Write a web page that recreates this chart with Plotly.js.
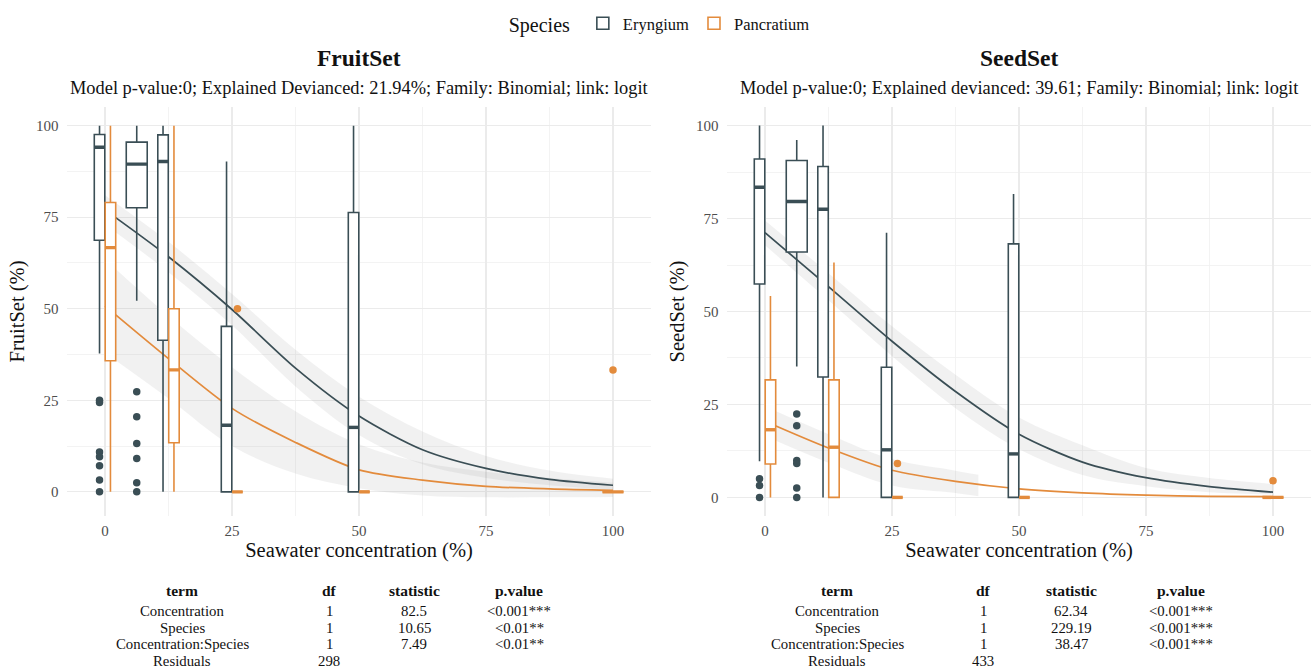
<!DOCTYPE html>
<html><head><meta charset="utf-8">
<script src="https://cdn.plot.ly/plotly-3.0.1.min.js"></script>
<style>html,body{margin:0;padding:0;background:#fff}</style>
</head><body><div id="chart" style="width:1311px;height:669px"></div>
<script>
// ---------------- DATA ----------------
const xTicks = [0, 25, 50, 75, 100];
const yTicks = [0, 25, 50, 75, 100];
const minorTicks = [12.5, 37.5, 62.5, 87.5];
const speciesNames = ['Eryngium', 'Pancratium'];

// FruitSet boxplot statistics
const fruitEryConc = [0, 6.25, 12.5, 25, 50];
const fruitEryQ1 = [68.7, 77.6, 41.4, 0, 0];
const fruitEryMed = [94.1, 89.5, 90.2, 18.2, 17.6];
const fruitEryQ3 = [97.6, 95.5, 97.5, 45.2, 76.3];
const fruitEryLow = [37.8, 52.2, 0, 0, 0];
const fruitEryHigh = [100, 100, 100, 90.2, 100];
const fruitEryOutConc = [0, 0, 0, 0, 0, 0, 0, 6.25, 6.25, 6.25, 6.25, 6.25, 6.25];
const fruitEryOutVal = [25, 24.4, 10.9, 9.6, 7.1, 3.2, 0, 27.3, 20.5, 13.2, 9.1, 2.5, 0];

const fruitPanConc = [0, 12.5, 25, 50, 100];
const fruitPanQ1 = [35.8, 13.4, 0, 0, 0];
const fruitPanMed = [66.7, 33.3, 0, 0, 0];
const fruitPanQ3 = [79.0, 50, 0, 0, 0];
const fruitPanLow = [0, 0, 0, 0, 0];
const fruitPanHigh = [100, 100, 0, 0, 0];
const fruitPanOutConc = [25, 100];
const fruitPanOutVal = [50, 33.3];

// FruitSet fitted GLM curves and confidence bands
const fitX = [0, 12.5, 25, 37.5, 50, 62.5, 75, 87.5, 100];
const fruitEryFit = [77.0, 64.2, 49.8, 33.8, 20.7, 11.5, 6.4, 3.4, 1.8];
const fruitEryLo = [73.0, 60.0, 45.5, 28.8, 15.5, 7.5, 3.8, 1.8, 0.6];
const fruitEryHi = [81.0, 68.3, 54.0, 38.8, 26.0, 16.5, 9.8, 5.8, 3.6];
const fruitPanFit = [50.8, 36.4, 22.8, 13.5, 6.0, 3.2, 1.5, 0.8, 0.4];
const fruitPanBandX = [0, 12.5, 25, 37.5, 50, 62.5, 75, 87.5, 100];
const fruitPanLo = [38.0, 25.5, 12.5, 5.0, 1.0, -1.0, -1.5, -1.5, -1.4];
const fruitPanHi = [63.5, 48.0, 34.0, 22.0, 13.0, 8.0, 5.5, 3.8, 2.5];

// SeedSet boxplot statistics
const seedEryConc = [0, 6.25, 12.5, 25, 50];
const seedEryQ1 = [57.4, 66.0, 32.4, 0, 0];
const seedEryMed = [83.4, 79.6, 77.5, 12.8, 11.7];
const seedEryQ3 = [91.0, 90.6, 89.0, 35.0, 68.2];
const seedEryLow = [9.7, 35.2, 0, 0, 0];
const seedEryHigh = [100, 96.1, 100, 71.2, 81.6];
const seedEryOutConc = [0, 0, 0, 6.25, 6.25, 6.25, 6.25, 6.25, 6.25];
const seedEryOutVal = [5.0, 3.2, 0, 22.4, 19.3, 9.9, 9.1, 2.5, 0];

const seedPanConc = [0, 12.5, 25, 50, 100];
const seedPanQ1 = [9.0, 0, 0, 0, 0];
const seedPanMed = [18.2, 13.5, 0, 0, 0];
const seedPanQ3 = [31.6, 31.6, 0, 0, 0];
const seedPanLow = [0, 0, 0, 0, 0];
const seedPanHigh = [54.2, 63.2, 0, 0, 0];
const seedPanOutConc = [25, 100];
const seedPanOutVal = [9.1, 4.5];

// SeedSet fitted GLM curves and confidence bands
const seedEryFit = [71.2, 56.7, 42.0, 28.5, 17.0, 9.5, 5.3, 2.9, 1.4];
const seedEryLo = [67.8, 53.0, 38.0, 24.0, 13.0, 6.0, 3.0, 1.4, 0.8];
const seedEryHi = [74.5, 60.3, 46.0, 33.0, 21.5, 14.0, 7.9, 5.2, 3.6];
const seedPanFit = [20.5, 13.3, 7.3, 4.3, 2.3, 1.2, 0.6, 0.3, 0.2];
const seedPanBandX = [0, 12.5, 25, 37.5, 42];
const seedPanLo = [16.5, 9.3, 3.2, 1.2, 0.3];
const seedPanHi = [24.5, 17.0, 10.3, 7.2, 6.1];

// Titles
const fruitTitle = 'FruitSet';
const fruitSubtitle = 'Model p-value:0; Explained Devianced: 21.94%; Family: Binomial; link: logit';
const seedTitle = 'SeedSet';
const seedSubtitle = 'Model p-value:0; Explained devianced: 39.61; Family: Binomial; link: logit';
const xTitle = 'Seawater concentration (%)';
const fruitYTitle = 'FruitSet (%)';
const seedYTitle = 'SeedSet (%)';

// ANOVA tables
const tableHeader = ['term', 'df', 'statistic', 'p.value'];
const tableTerms = ['Concentration', 'Species', 'Concentration:Species', 'Residuals'];
const fruitDf = ['1', '1', '1', '298'];
const fruitStat = ['82.5', '10.65', '7.49', ''];
const fruitP = ['<0.001***', '<0.01**', '<0.01**', ''];
const seedDf = ['1', '1', '1', '433'];
const seedStat = ['62.34', '229.19', '38.47', ''];
const seedP = ['<0.001***', '<0.001***', '<0.001***', ''];

// ---------------- STYLE / BUILD ----------------
const W = 1311, H = 669;
const px = v => v / W, py = v => 1 - v / H;
const ERY = '#3a4e55', PAN = '#e38b3c';
const SERIF = 'Liberation Serif, Times New Roman, serif';
const BOX_W = 4.3;
const GRID = '#ebebeb';
const BAND = 'rgba(140,140,140,0.12)';

const xDomL = [px(67.4), px(650.6)], xDomR = [px(727.4), px(1310.6)];
const yDom = [py(516), py(107)];
const xRange = [-7.4, 107.4];
const yRangeL = [-6.6, 105.1], yRangeR = [-5, 105];

const traces = [];

function band(x, lo, hi, xa, ya) {
  traces.push({type:'scatter', mode:'lines', x:x, y:lo, xaxis:xa, yaxis:ya, line:{width:0, shape:'spline'}, showlegend:false, hoverinfo:'skip'});
  traces.push({type:'scatter', mode:'lines', x:x, y:hi, xaxis:xa, yaxis:ya, line:{width:0, shape:'spline'}, fill:'tonexty', fillcolor:BAND, showlegend:false, hoverinfo:'skip'});
}
function curve(x, y, color, xa, ya) {
  traces.push({type:'scatter', mode:'lines', x:x, y:y, xaxis:xa, yaxis:ya, line:{width:1.7, color:color, shape:'spline', smoothing:0.8}, showlegend:false, hoverinfo:'skip'});
}
function position(c, otherConc, side) {
  return otherConc.includes(c) ? c + side * BOX_W / 4 : c;
}
function boxes(st, otherConc, side, color, name, xa, ya, showLegend) {
  const mx = [], my = [];
  st.conc.forEach((c, i) => {
    const shared = otherConc.includes(c);
    const w = shared ? BOX_W / 2 : BOX_W;
    const p = position(c, otherConc, side);
    traces.push({type:'box', name:name, legendgroup:name, showlegend: showLegend && i === 0,
      x:[p], q1:[st.q1[i]], median:[st.med[i]], q3:[st.q3[i]], lowerfence:[st.lo[i]], upperfence:[st.hi[i]],
      width: w * 0.96, whiskerwidth:0, boxpoints:false, fillcolor:'#ffffff',
      line:{color:color, width:1.6}, xaxis:xa, yaxis:ya, hoverinfo:'skip'});
    const half = w * 0.96 / 2;
    mx.push(p - half, p + half, null); my.push(st.med[i], st.med[i], null);
  });
  traces.push({type:'scatter', mode:'lines', x:mx, y:my, xaxis:xa, yaxis:ya, line:{color:color, width:3.4}, showlegend:false, hoverinfo:'skip'});
  traces.push({type:'scatter', mode:'markers', x:st.outConc.map(c => position(c, otherConc, side)), y:st.outVal,
    xaxis:xa, yaxis:ya, marker:{color:color, size:7.5}, showlegend:false, hoverinfo:'skip'});
}

const fruitEry = {conc:fruitEryConc, q1:fruitEryQ1, med:fruitEryMed, q3:fruitEryQ3, lo:fruitEryLow, hi:fruitEryHigh, outConc:fruitEryOutConc, outVal:fruitEryOutVal};
const fruitPan = {conc:fruitPanConc, q1:fruitPanQ1, med:fruitPanMed, q3:fruitPanQ3, lo:fruitPanLow, hi:fruitPanHigh, outConc:fruitPanOutConc, outVal:fruitPanOutVal};
const seedEry = {conc:seedEryConc, q1:seedEryQ1, med:seedEryMed, q3:seedEryQ3, lo:seedEryLow, hi:seedEryHigh, outConc:seedEryOutConc, outVal:seedEryOutVal};
const seedPan = {conc:seedPanConc, q1:seedPanQ1, med:seedPanMed, q3:seedPanQ3, lo:seedPanLow, hi:seedPanHigh, outConc:seedPanOutConc, outVal:seedPanOutVal};

// base layer: bands + curves
band(fitX, fruitEryLo, fruitEryHi, 'x', 'y');
band(fruitPanBandX, fruitPanLo, fruitPanHi, 'x', 'y');
curve(fitX, fruitEryFit, ERY, 'x', 'y');
curve(fitX, fruitPanFit, PAN, 'x', 'y');
band(fitX, seedEryLo, seedEryHi, 'x2', 'y2');
band(seedPanBandX, seedPanLo, seedPanHi, 'x2', 'y2');
curve(fitX, seedEryFit, ERY, 'x2', 'y2');
curve(fitX, seedPanFit, PAN, 'x2', 'y2');
// overlay layer: boxes above curves
boxes(fruitEry, fruitPanConc, -1, ERY, speciesNames[0], 'x3', 'y3', true);
boxes(fruitPan, fruitEryConc, 1, PAN, speciesNames[1], 'x3', 'y3', true);
boxes(seedEry, seedPanConc, -1, ERY, speciesNames[0], 'x4', 'y4', false);
boxes(seedPan, seedEryConc, 1, PAN, speciesNames[1], 'x4', 'y4', false);

const tickFont = {family:SERIF, size:15, color:'#4d4d4d'};
const titleFont = {family:SERIF, size:20.5, color:'#111'};
function xAxis(dom, anchor) {
  return {domain:dom, range:xRange, anchor:anchor, tickmode:'array', tickvals:xTicks, ticktext:xTicks.map(String),
    showgrid:true, gridcolor:GRID, gridwidth:1.2, zeroline:false, showline:false, ticks:'', tickfont:tickFont,
    ticklabelstandoff:4, minor:{tickvals:minorTicks, showgrid:true, gridcolor:'#f0f0f0', gridwidth:0.8, ticks:''},
    title:{text:xTitle, font:titleFont, standoff:2}, automargin:false, fixedrange:true};
}
function yAxis(dom, anchor, range, title) {
  return {domain:dom, range:range, anchor:anchor, tickmode:'array', tickvals:yTicks, ticktext:yTicks.map(String),
    showgrid:true, gridcolor:GRID, gridwidth:1.2, zeroline:false, showline:false, ticks:'', tickfont:tickFont,
    ticklabelstandoff:8, minor:{tickvals:minorTicks, showgrid:true, gridcolor:'#f0f0f0', gridwidth:0.8, ticks:''},
    title:{text:title, font:titleFont, standoff:5}, automargin:false, fixedrange:true};
}
function overlayAxis(base, dom, range, anchor) {
  return {overlaying:base, domain:dom, range:range, anchor:anchor, visible:false, showgrid:false, zeroline:false, fixedrange:true};
}

const annotations = [];
function text(t, x, y, size, bold, opts) {
  annotations.push(Object.assign({text: bold ? '<b>' + t + '</b>' : t, x:x, y:y, xref:'paper', yref:'paper',
    showarrow:false, xanchor:'center', yanchor:'middle', borderpad:0, font:{family:SERIF, size:size, color:'#111'}}, opts || {}));
}
const cL = (67.4 + 650.6) / 2, cR = (727.4 + 1310.6) / 2;
text(fruitTitle, px(cL), py(58), 23.5, true);
text(fruitSubtitle, px(cL), py(88), 18.4, false);
text(seedTitle, px(cR), py(58), 23.5, true);
text(seedSubtitle, px(cR), py(88), 18.4, false);

const TABLE_FS = 14.8;
function table(cols, df, stat, p) {
  const rowsY = [611, 627.5, 644, 660.5];
  tableHeader.forEach((h, j) => text(h, px(cols[j]), py(590), 15.5, true));
  tableTerms.forEach((t, i) => {
    text(t, px(cols[0]), py(rowsY[i]), TABLE_FS, false);
    text(df[i], px(cols[1]), py(rowsY[i]), TABLE_FS, false);
    if (stat[i]) text(stat[i], px(cols[2]), py(rowsY[i]), TABLE_FS, false);
    if (p[i]) text(p[i], px(cols[3]), py(rowsY[i]), TABLE_FS, false);
  });
}
table([182, 329, 414, 519], fruitDf, fruitStat, fruitP);
table([837, 983, 1071, 1181], seedDf, seedStat, seedP);

const layout = {
  width:W, height:H, margin:{l:0, r:0, t:0, b:0}, paper_bgcolor:'#ffffff', plot_bgcolor:'#ffffff',
  font:{family:SERIF, color:'#111'}, boxmode:'overlay', hovermode:false,
  xaxis:xAxis(xDomL, 'y'), yaxis:yAxis(yDom, 'x', yRangeL, fruitYTitle),
  xaxis2:xAxis(xDomR, 'y2'), yaxis2:yAxis(yDom, 'x2', yRangeR, seedYTitle),
  xaxis3:overlayAxis('x', xDomL, xRange, 'y3'), yaxis3:overlayAxis('y', yDom, yRangeL, 'x3'),
  xaxis4:overlayAxis('x2', xDomR, xRange, 'y4'), yaxis4:overlayAxis('y2', yDom, yRangeR, 'x4'),
  legend:{orientation:'h', x:0.504, xanchor:'center', y:py(24), yanchor:'middle',
    title:{text:'Species ', side:'left', font:{family:SERIF, size:20, color:'#111'}},
    font:{family:SERIF, size:16.5, color:'#111'}, itemwidth:30, bgcolor:'rgba(0,0,0,0)'},
  annotations:annotations
};
Plotly.newPlot('chart', traces, layout, {displayModeBar:false, staticPlot:true});
</script></body></html>
